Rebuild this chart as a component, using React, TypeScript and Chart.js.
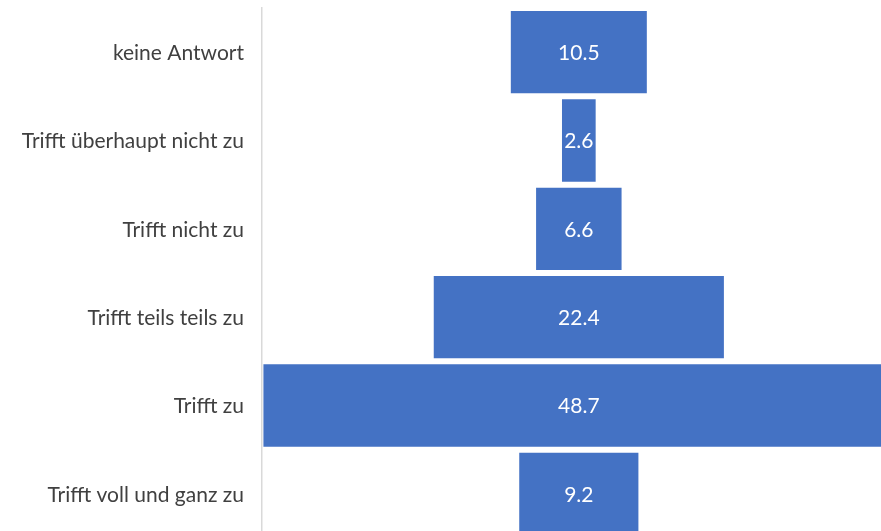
import React, { useEffect, useRef } from "react";
import { Chart, registerables } from "chart.js";

Chart.register(...registerables);

const categories = [
  "keine Antwort",
  "Trifft überhaupt nicht zu",
  "Trifft nicht zu",
  "Trifft teils teils zu",
  "Trifft zu",
  "Trifft voll und ganz zu",
];
const values = [10.5, 2.6, 6.6, 22.4, 48.7, 9.2];

const CENTER = 24.46;
const X_MAX = 50.8;
const FONT = "Lato, 'Open Sans', sans-serif";

const labelPlugin = {
  id: "centerLabels",
  afterDatasetsDraw(chart: any) {
    const ctx = chart.ctx;
    const meta = chart.getDatasetMeta(0);
    const yScale = chart.scales.y;
    ctx.save();
    ctx.textBaseline = "middle";
    // value labels
    ctx.fillStyle = "#ffffff";
    ctx.font = `21px ${FONT}`;
    ctx.textAlign = "center";
    meta.data.forEach((bar: any, i: number) => {
      const x = chart.scales.x.getPixelForValue(CENTER);
      ctx.fillText(values[i].toFixed(1), x, bar.y + 1);
    });
    // category labels
    ctx.fillStyle = "#404040";
    ctx.font = `21px ${FONT}`;
    ctx.textAlign = "right";
    categories.forEach((c, i) => {
      ctx.fillText(c, yScale.right - 18, yScale.getPixelForValue(i) + 1);
    });
    ctx.restore();
  },
};

export default function App() {
  const ref = useRef<HTMLCanvasElement | null>(null);
  useEffect(() => {
    if (!ref.current) return;
    const chart = new Chart(ref.current, {
      type: "bar",
      data: {
        labels: categories,
        datasets: [
          {
            data: values.map((v) => [CENTER - v / 2, CENTER + v / 2]) as any,
            backgroundColor: "#4472C4",
            borderWidth: 0,
            categoryPercentage: 0.932,
            barPercentage: 1,
          },
        ],
      },
      options: {
        indexAxis: "y",
        responsive: false,
        animation: false,
        layout: { padding: { top: 8, bottom: 7, left: 0, right: 0 } },
        plugins: { legend: { display: false }, tooltip: { enabled: false } },
        scales: {
          x: {
            type: "linear",
            min: 0,
            max: X_MAX,
            display: false,
          },
          y: {
            grid: { display: false, drawTicks: false },
            border: { display: true, color: "#d9d9d9", width: 1.5 },
            ticks: { display: false, padding: 0 },
            afterFit(scale: any) {
              scale.width = 262;
            },
          },
        },
      },
      plugins: [labelPlugin],
    });
    return () => chart.destroy();
  }, []);
  return (
    <div
      style={{
        position: "fixed",
        top: 0,
        left: 0,
        width: 881,
        height: 531,
        overflow: "hidden",
        background: "#ffffff",
      }}
    >
      <canvas ref={ref} width={920} height={545} style={{ display: "block" }} />
    </div>
  );
}
